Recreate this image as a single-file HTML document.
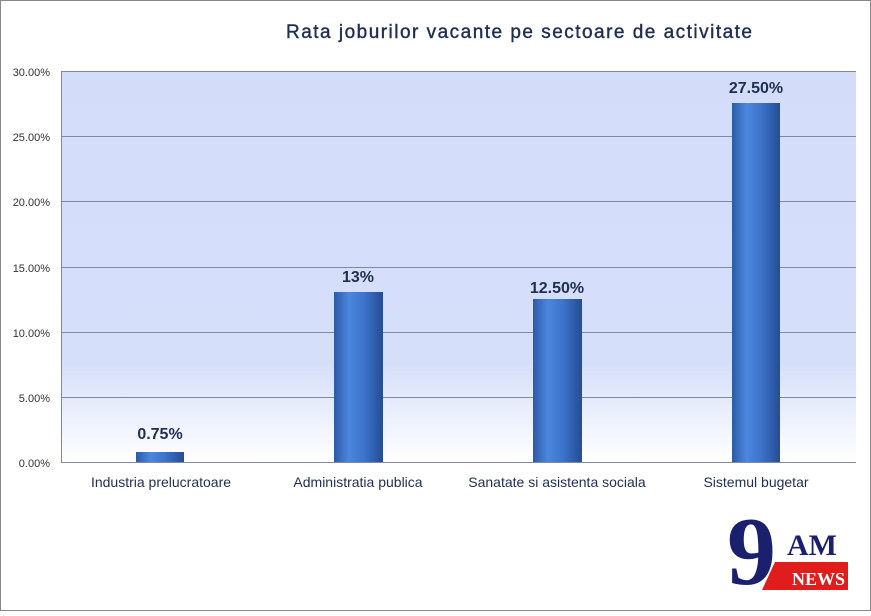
<!DOCTYPE html>
<html><head><style>
body{margin:0;background:#fff;}
</style></head><body>
<svg width="871" height="611" xmlns="http://www.w3.org/2000/svg" font-family="Liberation Sans, sans-serif">
<defs>
<linearGradient id="bg" x1="0" y1="0" x2="0" y2="1">
<stop offset="0" stop-color="#d3ddfa"/><stop offset="0.75" stop-color="#d6dffa"/><stop offset="1" stop-color="#ffffff"/>
</linearGradient>
<linearGradient id="bar" x1="0" y1="0" x2="1" y2="0">
<stop offset="0" stop-color="#2c5aa8"/><stop offset="0.3" stop-color="#4c86de"/><stop offset="0.6" stop-color="#3d74cc"/><stop offset="1" stop-color="#244d94"/>
</linearGradient>
</defs>
<rect x="0.5" y="0.5" width="870" height="610" fill="#fff" stroke="#888"/>
<text x="519" y="38" text-anchor="middle" font-size="19" fill="#1f2f4f" stroke="#1f2f4f" stroke-width="0.4" textLength="466">Rata joburilor vacante pe sectoare de activitate</text>
<rect x="61" y="71" width="795" height="391" fill="url(#bg)"/>
<g stroke="#8088a0" stroke-width="1">
<line x1="61" y1="71.5" x2="856" y2="71.5"/>
<line x1="61" y1="136.5" x2="856" y2="136.5"/>
<line x1="61" y1="201.5" x2="856" y2="201.5"/>
<line x1="61" y1="267.5" x2="856" y2="267.5"/>
<line x1="61" y1="332.5" x2="856" y2="332.5"/>
<line x1="61" y1="397.5" x2="856" y2="397.5"/>
<line x1="61" y1="462.5" x2="856" y2="462.5"/>
<line x1="61.5" y1="71" x2="61.5" y2="462"/>
</g>
<g font-size="11" fill="#333" text-anchor="end">
<text x="50" y="76">30.00%</text><text x="50" y="141">25.00%</text><text x="50" y="206">20.00%</text>
<text x="50" y="272">15.00%</text><text x="50" y="337">10.00%</text><text x="50" y="402">5.00%</text><text x="50" y="467">0.00%</text>
</g>
<rect x="136" y="452" width="48" height="10" fill="url(#bar)"/>
<rect x="334" y="292" width="49" height="170" fill="url(#bar)"/>
<rect x="533" y="299" width="49" height="163" fill="url(#bar)"/>
<rect x="732" y="103" width="48" height="359" fill="url(#bar)"/>
<g font-size="16" font-weight="bold" fill="#1f2f4f" text-anchor="middle">
<text x="160" y="439">0.75%</text><text x="358" y="282">13%</text><text x="557" y="293">12.50%</text><text x="756" y="93">27.50%</text>
</g>
<g font-size="14" fill="#1f2f4f" text-anchor="middle">
<text x="161" y="487">Industria prelucratoare</text><text x="358" y="487">Administratia publica</text>
<text x="557" y="487">Sanatate si asistenta sociala</text><text x="756" y="487">Sistemul bugetar</text>
</g>
<polygon points="775,562 848,562 848,590 762,590" fill="#e01c1c"/>
<text x="727" y="584" font-family="Liberation Serif, serif" font-weight="bold" font-size="98" fill="#1a1f6e">9</text>
<text x="787" y="555" font-family="Liberation Serif, serif" font-weight="bold" font-size="30" fill="#1a1f6e">AM</text>
<text x="792" y="585" font-family="Liberation Serif, serif" font-weight="bold" font-size="18" fill="#fff">NEWS</text>
</svg>
</body></html>
